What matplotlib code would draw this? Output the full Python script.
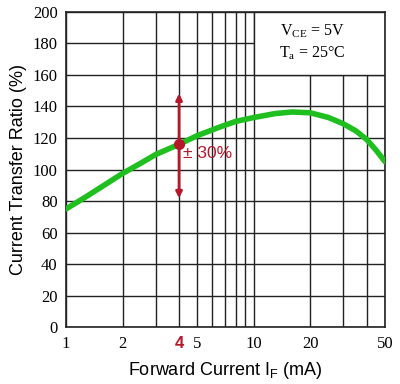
import matplotlib
matplotlib.use('Agg')
import matplotlib.pyplot as plt
from matplotlib.patches import Rectangle

plt.rcParams.update({
    'mathtext.fontset': 'custom',
    'mathtext.rm': 'Liberation Serif',
    'mathtext.sf': 'Liberation Sans',
})

# curve
current_ma = [1, 1.25, 1.5, 2, 2.5, 3, 4, 5, 6.6, 8, 10, 13, 16, 20, 25, 30, 35, 40, 45, 50]
ctr_pct = [75, 82, 88, 97.5, 104, 109.5, 116, 121.5, 127, 130.5, 133, 135.5, 136.5,
           136, 133, 129, 124.5, 119, 112, 105]

mark_current = 4
mark_ctr = 116
mark_lo, mark_hi = 80, 150

x_ticks = [1, 2, 4, 5, 10, 20, 50]
x_grid = [1, 2, 3, 4, 5, 6, 7, 8, 9, 10, 20, 30, 40, 50]
y_ticks = list(range(0, 201, 20))

RED = '#b5172b'
GREEN = '#1fbf1f'
SERIF = 'Liberation Serif'
SANS = 'Liberation Sans'

fig = plt.figure(figsize=(4, 3.84), dpi=100)
ax = fig.add_axes([0.165, 0.148, 0.7975, 0.821])
ax.set_xscale('log')
ax.set_xlim(1, 50)
ax.set_ylim(0, 200)

for gx in x_grid:
    ax.axvline(gx, color='#222222', lw=1.0, zorder=1)
for gy in y_ticks:
    ax.axhline(gy, color='#222222', lw=1.0, zorder=1)

# white box for conditions (covers grid)
ax.add_patch(Rectangle((10, 160), 40, 40, facecolor='white', edgecolor='#222222',
                       lw=1.0, zorder=2))
ax.text(20.5, 188, r'V$_{\rm CE}$ = 5V', ha='center', va='center',
        fontsize=11.5, family=SERIF, zorder=3)
ax.text(20.5, 174, r'T$_{\rm a}$ = 25°C', ha='center', va='center',
        fontsize=11.5, family=SERIF, zorder=3)

ax.plot(current_ma, ctr_pct, color=GREEN, lw=4, solid_capstyle='round',
        solid_joinstyle='round', zorder=4)

ax.annotate('', xy=(mark_current, mark_hi), xytext=(mark_current, mark_ctr),
            arrowprops=dict(arrowstyle='-|>', color=RED, lw=2, mutation_scale=9), zorder=5)
ax.annotate('', xy=(mark_current, mark_lo), xytext=(mark_current, mark_ctr),
            arrowprops=dict(arrowstyle='-|>', color=RED, lw=2, mutation_scale=9), zorder=5)
ax.plot([mark_current], [mark_ctr], 'o', color=RED, ms=7, zorder=6)
ax.text(4.2, 110, '± 30%', color=RED, fontsize=12.5, family=SANS, va='center', zorder=6)

ax.set_xticks(x_ticks)
ax.set_xticks([], minor=True)
ax.set_xticklabels([str(t) for t in x_ticks], family=SERIF, fontsize=12)
for lab in ax.get_xticklabels():
    if lab.get_text() == '4':
        lab.set_color(RED)
        lab.set_fontweight('bold')
        lab.set_family(SANS)
ax.set_yticks(y_ticks)
ax.set_yticklabels([str(t) for t in y_ticks], family=SERIF, fontsize=12)
ax.tick_params(length=0, pad=6)

for s in ax.spines.values():
    s.set_linewidth(1.2)
    s.set_color('#222222')

ax.set_xlabel(r'Forward Current I$_{\mathsf{F}}$ (mA)', family=SANS, fontsize=13, labelpad=6)
ax.set_ylabel('Current Transfer Ratio (%)', family=SANS, fontsize=13, labelpad=4)

fig.savefig('out.png', dpi=100)
